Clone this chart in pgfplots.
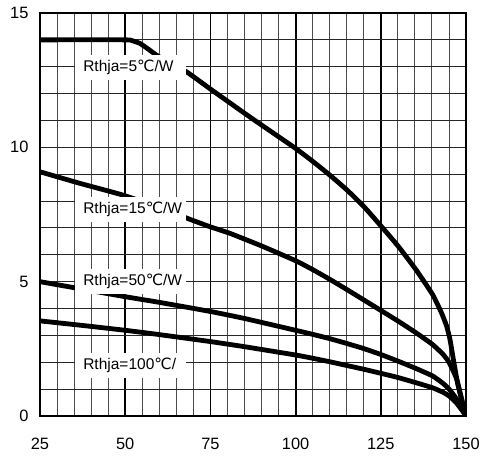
\documentclass[border=0pt]{standalone}
\usepackage{fontspec}
\setmainfont{Liberation Sans}
\newfontfamily\symfont{DejaVu Sans}
\usepackage{pgfplots}
\pgfplotsset{compat=1.18}

\newcommand{\degC}{{\symfont ℃}}

% Derating curves: allowed power (W) against temperature (deg C)
\pgfplotstableread{
T P
25 14
50 14
52 13.97
54.3 13.87
56.5 13.68
59.2 13.43
62 13.22
68 12.81
75 12.17
85 11.27
90 10.83
100 9.96
105 9.48
110 8.97
115 8.42
120 7.80
125 7.08
130.1 6.32
135.3 5.45
140.2 4.52
142.8 3.84
144.3 3.35
145.3 2.85
146.3 2.1
147.7 1.12
150 0
}\rthA

\pgfplotstableread{
T P
25 9.09
36.7 8.66
49.4 8.22
60 7.76
69 7.32
75 7.04
80.7 6.8
90 6.33
100 5.78
105 5.45
110 5.09
115 4.71
120 4.32
125 3.93
130.1 3.53
135.3 3.10
140.2 2.66
143.3 2.29
145.1 1.98
147.3 1.36
149.2 0.37
150 0
}\rthB

\pgfplotstableread{
T P
25 5.0
37.5 4.72
50 4.44
60 4.23
75 3.89
85 3.63
100 3.19
105 3.04
110 2.88
115 2.70
120 2.51
125 2.29
130.1 2.04
135.3 1.77
140.2 1.49
143.3 1.21
145.1 0.99
147.3 0.62
149.2 0.19
150 0
}\rthC

\pgfplotstableread{
T P
25 3.54
37.5 3.37
50 3.19
60 3.03
75 2.77
85 2.58
100 2.27
105 2.15
110 2.02
115 1.88
120 1.74
125 1.59
130.1 1.43
135.3 1.24
140.2 1.05
143.3 0.88
145.1 0.74
147.3 0.47
149.2 0.15
150 0
}\rthD

\begin{document}
\begin{tikzpicture}[
  lbl/.style={fill=white, inner xsep=8pt, inner ysep=0pt, minimum height=25pt,
    text width=95pt, align=left, anchor=west, font=\fontsize{15.5}{17}\selectfont},
  curve/.style={black, line width=4.8pt, line join=round, smooth, tension=0.3},
]
\fill[white] (-40pt,-44pt) rectangle (444pt,416pt);
\begin{axis}[
  scale only axis, width=426pt, height=403pt,
  xmin=25, xmax=150, ymin=0, ymax=15,
  xtick={25,50,...,150}, ytick={0,5,10,15},
  minor x tick num=4, minor y tick num=4,
  grid=both,
  tick style={draw=none},
  major tick length=0pt, minor tick length=0pt,
  major x grid style={black, line width=1.8pt},
  minor x grid style={black!70, line width=0.9pt},
  major y grid style={black!85, line width=0.9pt},
  minor y grid style={black!85, line width=0.9pt},
  axis line style={line width=2.2pt},
  tick label style={font=\fontsize{16.4}{18}\selectfont},
  /pgf/number format/assume math mode=true,
  xticklabel style={yshift=-19pt},
  yticklabel style={xshift=-8pt},
]
\addplot[curve] table {\rthA};
\addplot[curve] table {\rthB};
\addplot[curve] table {\rthC};
\addplot[curve] table {\rthD};

\node[lbl] at (axis cs:35.3,12.97) {Rthja=5\degC/W};
\node[lbl] at (axis cs:35.3,7.70) {Rthja=15\degC/W};
\node[lbl] at (axis cs:35.3,5.0) {Rthja=50\degC/W};
\node[lbl] at (axis cs:35.3,1.87) {Rthja=100\degC/};
\end{axis}
\pgfresetboundingbox
\path[use as bounding box] (-40pt,-44pt) rectangle (444pt,416pt);
\end{tikzpicture}
\end{document}
